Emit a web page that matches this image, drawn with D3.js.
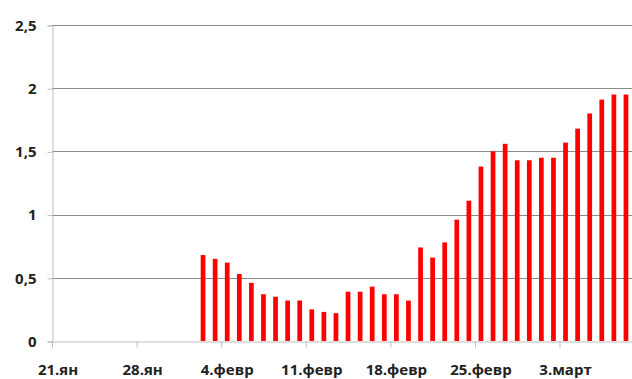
<!DOCTYPE html>
<html>
<head>
<meta charset="utf-8">
<script src="https://cdn.jsdelivr.net/npm/d3@7"></script>
<style>
  body { margin: 0; background: #fff; }
  svg { display: block; }
  text { font-family: "Open Sans", "DejaVu Sans", sans-serif; font-weight: bold; fill: #222; }
</style>
</head>
<body>
<svg width="632" height="379"></svg>
<script>
// first bar is 2 Feb 2020, one bar per day
const startDay = "2020-02-02";
const values = [0.68, 0.65, 0.62, 0.53, 0.46, 0.37, 0.35, 0.32, 0.32, 0.25, 0.23, 0.22,
  0.39, 0.39, 0.43, 0.37, 0.37, 0.32, 0.74, 0.66, 0.78, 0.96, 1.11, 1.38, 1.50, 1.56,
  1.43, 1.43, 1.45, 1.45, 1.57, 1.68, 1.80, 1.91, 1.95, 1.95];
const tickDays = ["2020-01-21", "2020-01-28", "2020-02-04", "2020-02-11", "2020-02-18", "2020-02-25", "2020-03-03"];
const tickLabels = ["21.ян", "28.ян", "4.февр", "11.февр", "18.февр", "25.февр", "3.март"];
const yTicks = [0, 0.5, 1, 1.5, 2, 2.5];

const parse = d3.timeParse("%Y-%m-%d");
const first = parse(startDay);
const data = values.map((v, i) => ({ date: d3.timeDay.offset(first, i), value: v }));

const margin = {top: 25, right: 0, bottom: 38, left: 52},
    width = 632, height = 379;

const x = d3.scaleTime()
  .domain([parse("2020-01-21"), parse("2020-03-09")])
  .range([margin.left, width - margin.right]);
const y = d3.scaleLinear()
  .domain([0, 2.5])
  .range([height - margin.bottom, margin.top]);

const dayW = x(d3.timeDay.offset(first, 1)) - x(first);
const barW = dayW * 0.39;

const svg = d3.select("svg");

// gridlines
svg.append("g")
  .selectAll("line")
  .data(yTicks.filter(d => d > 0))
  .enter().append("line")
  .attr("x1", margin.left).attr("x2", width)
  .attr("y1", d => Math.round(y(d)) + 0.5).attr("y2", d => Math.round(y(d)) + 0.5)
  .style("stroke", "#8a8a8a");

// y axis
const yAxis = svg.append("g")
  .attr("transform", "translate(" + (margin.left + 0.5) + ",0.5)")
  .call(d3.axisLeft(y).tickValues(yTicks).tickSize(5).tickPadding(11)
    .tickFormat(d => String(d).replace(".", ",")));
yAxis.select(".domain").style("stroke", "#bdbdbd");
yAxis.selectAll(".tick line").style("stroke", "#bdbdbd");
yAxis.selectAll("text").style("font-size", "15px").style("fill", "#222");

// bars
svg.append("g")
  .selectAll("rect")
  .data(data)
  .enter().append("rect")
  .attr("x", d => x(d.date) + (dayW - barW) / 2)
  .attr("y", d => y(d.value))
  .attr("width", barW)
  .attr("height", d => y(0) - y(d.value))
  .style("fill", "#ff0000");

// x axis
const xAxis = svg.append("g")
  .attr("transform", "translate(0," + (Math.round(y(0)) + 0.5) + ")")
  .call(d3.axisBottom(x).tickValues(tickDays.map(parse)).tickSize(6).tickFormat(""));
xAxis.select(".domain").style("stroke", "#bdbdbd");
xAxis.selectAll(".tick line").style("stroke", "#bdbdbd");

svg.append("g")
  .selectAll("text")
  .data(tickDays)
  .enter().append("text")
  .attr("x", d => x(parse(d)) + dayW / 2)
  .attr("y", 375)
  .attr("text-anchor", "middle")
  .style("font-size", "15px")
  .text((d, i) => tickLabels[i]);
</script>
</body>
</html>
